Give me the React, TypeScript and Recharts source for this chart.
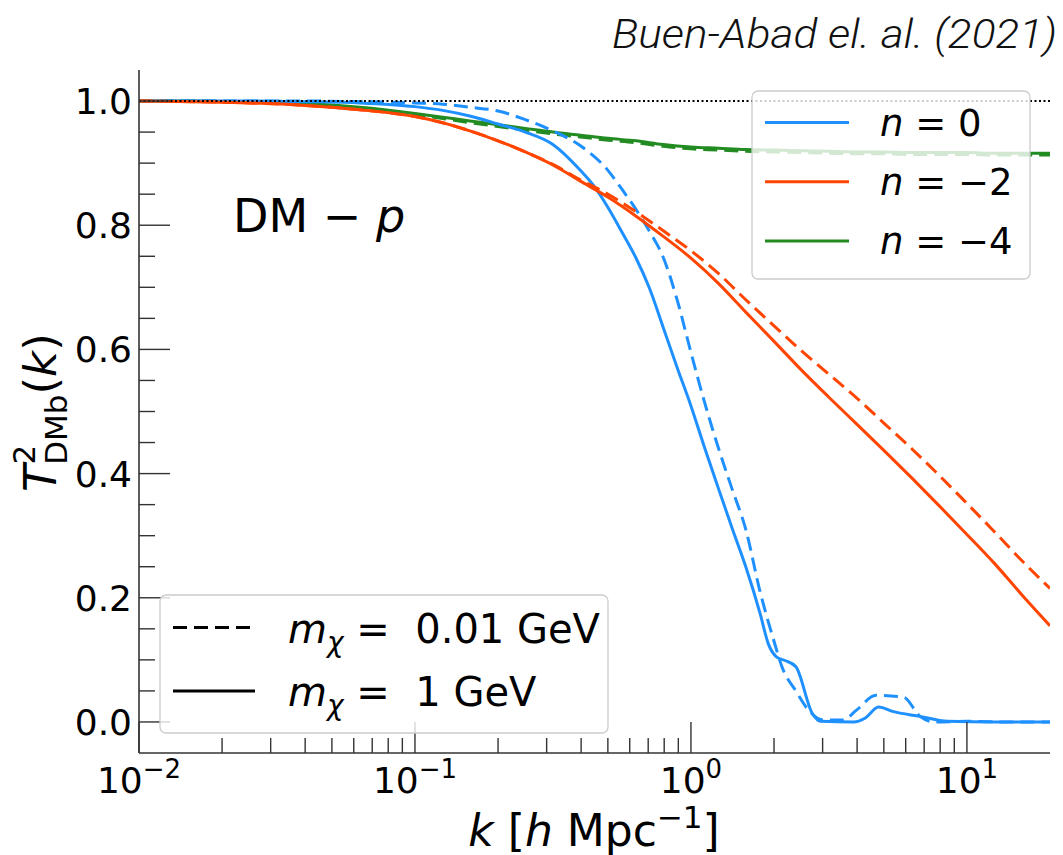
import React from 'react';
import { LineChart, Line, XAxis, YAxis, ReferenceLine } from 'recharts';

const W = 1063;
const H = 855;
const FONT = "'DejaVu Sans', 'Liberation Sans', sans-serif";

const BLUE = '#1E90FF';
const RED = '#FF4500';
const GREEN = '#228B22';

// k grid (h/Mpc) for the smooth n=-2 and n=-4 curves
const K_SMOOTH = [0.01, 0.0158, 0.0251, 0.0398, 0.0631, 0.1, 0.126, 0.158, 0.2, 0.251, 0.316, 0.398, 0.501, 0.631, 0.794, 1.0, 1.26, 1.58, 2.0, 2.51, 3.16, 3.98, 5.01, 6.31, 7.94, 10, 12.6, 15.8, 20];

const T_RED_1GEV = [1.0, 0.999, 0.997, 0.993, 0.986, 0.975, 0.965, 0.952, 0.936, 0.918, 0.897, 0.871, 0.845, 0.815, 0.782, 0.747, 0.706, 0.660, 0.613, 0.567, 0.523, 0.480, 0.437, 0.393, 0.348, 0.302, 0.255, 0.205, 0.155];
const T_RED_001GEV = [1.0, 0.999, 0.997, 0.993, 0.986, 0.975, 0.965, 0.952, 0.936, 0.918, 0.898, 0.873, 0.850, 0.822, 0.791, 0.759, 0.722, 0.680, 0.638, 0.598, 0.560, 0.522, 0.481, 0.440, 0.397, 0.352, 0.306, 0.260, 0.215];

const T_GREEN_1GEV = [1.0, 1.0, 0.998, 0.996, 0.990, 0.980, 0.974, 0.968, 0.962, 0.956, 0.950, 0.945, 0.940, 0.936, 0.930, 0.926, 0.924, 0.922, 0.921, 0.920, 0.919, 0.918, 0.918, 0.917, 0.917, 0.917, 0.916, 0.916, 0.916];
const T_GREEN_001GEV = [1.0, 1.0, 0.998, 0.995, 0.988, 0.978, 0.972, 0.965, 0.959, 0.953, 0.947, 0.942, 0.937, 0.933, 0.927, 0.923, 0.921, 0.919, 0.918, 0.917, 0.916, 0.915, 0.915, 0.914, 0.914, 0.914, 0.913, 0.913, 0.913];

// n = 0 curves (own k grids, finer where they wiggle)
const K_BLUE_1GEV = [0.01, 0.0251, 0.0398, 0.0631, 0.1, 0.126, 0.158, 0.2, 0.251, 0.316, 0.398, 0.447, 0.501, 0.562, 0.631, 0.708, 0.794, 0.891, 1.0, 1.12, 1.26, 1.41, 1.58, 1.78, 1.91, 2.04, 2.19, 2.40, 2.75, 2.95, 3.89, 4.27, 4.79, 5.37, 6.76, 8.51, 12.6, 20];
const T_BLUE_1GEV = [1.0, 1.0, 0.999, 0.997, 0.991, 0.985, 0.976, 0.963, 0.950, 0.930, 0.888, 0.862, 0.828, 0.789, 0.748, 0.698, 0.635, 0.571, 0.509, 0.442, 0.375, 0.312, 0.250, 0.175, 0.125, 0.105, 0.099, 0.089, 0.014, 0.001, 0.0, 0.006, 0.024, 0.017, 0.009, 0.001, 0.0, 0.0];

const K_BLUE_001GEV = [0.01, 0.0251, 0.0398, 0.0631, 0.1, 0.126, 0.158, 0.2, 0.251, 0.316, 0.398, 0.501, 0.562, 0.631, 0.708, 0.794, 0.891, 1.0, 1.12, 1.26, 1.41, 1.58, 1.78, 2.0, 2.14, 2.40, 2.69, 3.02, 3.55, 3.98, 4.68, 5.89, 6.76, 7.59, 10, 14.1, 20];
const T_BLUE_001GEV = [1.0, 1.0, 1.0, 0.999, 0.997, 0.995, 0.990, 0.984, 0.970, 0.952, 0.928, 0.888, 0.858, 0.826, 0.790, 0.748, 0.680, 0.595, 0.515, 0.440, 0.375, 0.310, 0.210, 0.130, 0.088, 0.050, 0.017, 0.003, 0.003, 0.019, 0.043, 0.040, 0.009, 0.0, 0.001, 0.0, 0.0];

const X_MAJOR = [0.01, 0.1, 1, 10];
const X_MAJOR_EXP = ['\u22122', '\u22121', '0', '1'];
const X_MINOR = [0.02, 0.03, 0.04, 0.05, 0.06, 0.07, 0.08, 0.09, 0.2, 0.3, 0.4, 0.5, 0.6, 0.7, 0.8, 0.9, 2, 3, 4, 5, 6, 7, 8, 9];
const Y_MAJOR = [0, 0.2, 0.4, 0.6, 0.8, 1.0];
const Y_MINOR = [0.05, 0.1, 0.15, 0.25, 0.3, 0.35, 0.45, 0.5, 0.55, 0.65, 0.7, 0.75, 0.85, 0.9, 0.95];

const N_LABELS = ['0', '\u22122', '\u22124'];
const N_COLORS = [BLUE, RED, GREEN];
const MASS_LABELS = ['0.01 GeV', '1 GeV'];

const DASH = '14 7';

const toData = (k: number[], t: number[]) => k.map((kk, i) => ({ k: kk, t: t[i] }));

const SERIES = [
  { id: 'g001', data: toData(K_SMOOTH, T_GREEN_001GEV), color: GREEN, dashed: true },
  { id: 'g1', data: toData(K_SMOOTH, T_GREEN_1GEV), color: GREEN, dashed: false },
  { id: 'b001', data: toData(K_BLUE_001GEV, T_BLUE_001GEV), color: BLUE, dashed: true },
  { id: 'b1', data: toData(K_BLUE_1GEV, T_BLUE_1GEV), color: BLUE, dashed: false },
  { id: 'r001', data: toData(K_SMOOTH, T_RED_001GEV), color: RED, dashed: true },
  { id: 'r1', data: toData(K_SMOOTH, T_RED_1GEV), color: RED, dashed: false },
];

const X_TICKS = [...X_MAJOR, ...X_MINOR].sort((a, b) => a - b);
const Y_TICKS = [...Y_MAJOR, ...Y_MINOR].sort((a, b) => a - b);

const TICK_COLOR = '#333';
const txt = { fontFamily: FONT };

const XTick = (props: any) => {
  const { x, y, payload } = props;
  const idx = X_MAJOR.indexOf(payload.value);
  const major = idx >= 0;
  return (
    <g>
      <line x1={x} x2={x} y1={y} y2={y - (major ? 31 : 15)} stroke={TICK_COLOR} strokeWidth={1.4} />
      {major && (
        <text x={x} y={y + 40} textAnchor="middle" fontSize={36} style={txt} fill="#000">
          10<tspan dy={-15} fontSize={26}>{X_MAJOR_EXP[idx]}</tspan>
        </text>
      )}
    </g>
  );
};

const YTick = (props: any) => {
  const { x, y, payload } = props;
  const v = payload.value;
  const major = Y_MAJOR.indexOf(v) >= 0;
  return (
    <g>
      <line x1={x} x2={x + (major ? 31 : 16)} y1={y} y2={y} stroke={TICK_COLOR} strokeWidth={1.4} />
      {major && (
        <text x={x - 7} y={y + 13} textAnchor="end" fontSize={36} style={txt} fill="#000">
          {v.toFixed(1)}
        </text>
      )}
    </g>
  );
};

const NBSP = '\u00A0';

export default function App() {
  return (
    <div style={{ position: 'absolute', left: 0, top: 0, width: W, height: H, background: '#fff' }}>
      <div style={{ position: 'absolute', left: 0, top: 0 }}>
        <LineChart width={W} height={H} margin={{ top: 70, right: 13, left: 79, bottom: 62 }}>
          <XAxis
            xAxisId="b"
            dataKey="k"
            type="number"
            scale="log"
            domain={[0.01, 20]}
            allowDataOverflow
            ticks={X_TICKS}
            interval={0}
            tick={<XTick />}
            tickLine={false}
            tickSize={0}
            tickMargin={0}
            height={40}
            axisLine={{ stroke: TICK_COLOR, strokeWidth: 1.6 }}
          />
          <XAxis
            xAxisId="t"
            orientation="top"
            dataKey="k"
            type="number"
            scale="log"
            domain={[0.01, 20]}
            allowDataOverflow
            tick={false}
            tickLine={false}
            height={0}
            axisLine={{ stroke: TICK_COLOR, strokeWidth: 1.6 }}
          />
          <YAxis
            yAxisId="l"
            type="number"
            domain={[-0.05, 1.05]}
            allowDataOverflow
            ticks={Y_TICKS}
            interval={0}
            tick={<YTick />}
            tickLine={false}
            tickSize={0}
            tickMargin={0}
            width={60}
            axisLine={{ stroke: TICK_COLOR, strokeWidth: 1.6 }}
          />
          <YAxis
            yAxisId="r"
            orientation="right"
            type="number"
            domain={[-0.05, 1.05]}
            allowDataOverflow
            tick={false}
            tickLine={false}
            width={0}
            axisLine={{ stroke: TICK_COLOR, strokeWidth: 1.6 }}
          />
          {SERIES.map((s) => (
            <Line
              key={s.id}
              xAxisId="b"
              yAxisId="l"
              data={s.data}
              dataKey="t"
              type="monotone"
              stroke={s.color}
              strokeWidth={3}
              strokeDasharray={s.dashed ? DASH : undefined}
              dot={false}
              activeDot={false}
              isAnimationActive={false}
            />
          ))}
          <ReferenceLine xAxisId="b" yAxisId="l" y={1} stroke="#000" strokeWidth={2} strokeDasharray="2 2.5" />
        </LineChart>
      </div>
      <svg width={W} height={H} style={{ position: 'absolute', left: 0, top: 0, pointerEvents: 'none' }}>
        {/* title */}
        <text x={1057} y={48} textAnchor="end" fontSize={40} fontStyle="italic" fontWeight={300}
          style={{ fontFamily: "'Roboto', 'Liberation Sans', sans-serif" }} fill="#111" textLength={445} lengthAdjust="spacingAndGlyphs">
          Buen-Abad el. al. (2021)
        </text>
        {/* annotation */}
        <text x={233} y={232} fontSize={46} style={txt} fill="#000">
          DM{NBSP}{'\u2212'}{NBSP}<tspan fontStyle="italic">p</tspan>
        </text>
        {/* x label */}
        <text x={594} y={846} textAnchor="middle" fontSize={44} style={txt} fill="#000">
          <tspan fontStyle="italic">k</tspan>{NBSP}[<tspan fontStyle="italic">h</tspan>{NBSP}Mpc<tspan dy={-18} fontSize={31}>{'\u22121'}</tspan><tspan dy={18}>]</tspan>
        </text>
        {/* y label */}
        <g transform="translate(55.5, 412) rotate(-90)">
          <text x={-80} y={0} fontSize={45} style={txt} fill="#000">
            <tspan fontStyle="italic">T</tspan>
            <tspan dy={-21} fontSize={31}>2</tspan>
            <tspan dx={-20} dy={32} fontSize={31}>DMb</tspan>
            <tspan dy={-11}>(</tspan>
            <tspan fontStyle="italic">k</tspan>
            <tspan>)</tspan>
          </text>
        </g>
        {/* legend n */}
        <rect x={752} y={91} width={278} height={188} rx={6} fill="#fff" fillOpacity={0.8} stroke="#cccccc" strokeWidth={1.3} />
        {N_LABELS.map((lab, i) => {
          const ly = 122.5 + i * 59.2;
          return (
            <g key={lab}>
              <line x1={765} x2={849} y1={ly} y2={ly} stroke={N_COLORS[i]} strokeWidth={3} />
              <text x={880} y={ly + 13.5} fontSize={37} style={txt} fill="#000">
                <tspan fontStyle="italic">n</tspan>{NBSP}={NBSP}{lab}
              </text>
            </g>
          );
        })}
        {/* legend mass */}
        <rect x={160} y={595} width={448} height={138} rx={6} fill="#fff" fillOpacity={0.8} stroke="#cccccc" strokeWidth={1.3} />
        {MASS_LABELS.map((lab, i) => {
          const ly = 627.5 + i * 63.5;
          return (
            <g key={lab}>
              <line x1={173} x2={255} y1={ly} y2={ly} stroke="#000" strokeWidth={3} strokeDasharray={i === 0 ? DASH : undefined} />
              <text x={288} y={ly + 15} fontSize={40} style={txt} fill="#000">
                <tspan fontStyle="italic">m</tspan>
                <tspan dy={9} fontSize={28} fontStyle="italic">{'\u03C7'}</tspan>
                <tspan dy={-9}>{NBSP}={NBSP}{NBSP}{lab}</tspan>
              </text>
            </g>
          );
        })}
      </svg>
    </div>
  );
}
